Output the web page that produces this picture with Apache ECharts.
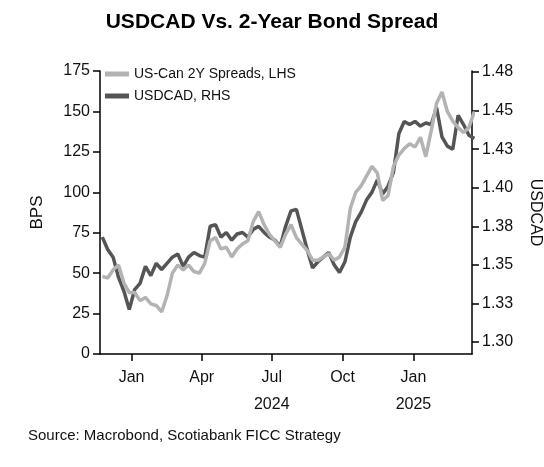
<!DOCTYPE html>
<html><head><meta charset="utf-8">
<script src="https://cdn.jsdelivr.net/npm/echarts@6/dist/echarts.min.js"></script>
<style>html,body{margin:0;padding:0;background:#fff}#c{width:544px;height:467px}</style>
</head><body><div id="c"></div>
<script>
const startDate = '2023-11-24';
const spread = [48,47,52,55,44,38,38,33,35,31,30,26,36,50,55,52,55,51,50,56,70,72,65,66,60,65,68,70,82,88,80,74,70,66,74,80,72,68,64,58,58,60,62,58,60,66,90,100,104,110,116,112,95,98,116,123,127,130,128,134,122,138,155,162,150,144,140,137,140,150];
const usdcad = [1.368,1.360,1.355,1.342,1.333,1.321,1.334,1.338,1.349,1.343,1.351,1.347,1.351,1.355,1.357,1.349,1.355,1.358,1.356,1.355,1.375,1.376,1.368,1.371,1.366,1.370,1.371,1.368,1.373,1.375,1.371,1.368,1.366,1.362,1.375,1.385,1.386,1.373,1.360,1.348,1.352,1.355,1.358,1.350,1.345,1.352,1.368,1.378,1.384,1.392,1.397,1.405,1.396,1.401,1.410,1.435,1.443,1.441,1.443,1.440,1.442,1.441,1.452,1.433,1.427,1.425,1.447,1.441,1.434,1.432];
const leftTicks = [0,25,50,75,100,125,150,175];
const rightTicks = [1.300,1.325,1.350,1.375,1.400,1.425,1.450,1.475];
const xTickDates = ['2024-01-01','2024-04-01','2024-07-01','2024-10-01','2025-01-01'];
const xTickLabels = ['Jan','Apr','Jul\n2024','Oct','Jan\n2025'];

const DAY = 86400000;
const t0 = new Date(startDate + 'T00:00:00Z').getTime();
const dates = spread.map((_, i) => t0 + i * 7 * DAY);
const xTicks = xTickDates.map(d => new Date(d + 'T00:00:00Z').getTime());
const chart = echarts.init(document.getElementById('c'));
const font = 'Liberation Sans, Arial, sans-serif';
chart.setOption({
  animation: false,
  textStyle: {fontFamily: font},
  title: {text: 'USDCAD Vs. 2-Year Bond Spread', left: 'center', top: 7,
    textStyle: {fontSize: 21, fontWeight: 'bold', color: '#000', fontFamily: font}},
  legend: {orient: 'vertical', left: 100, top: 62, itemGap: 8, icon: 'rect', itemWidth: 24, itemHeight: 5,
    textStyle: {fontSize: 14, color: '#111'}, data: ['US-Can 2Y Spreads, LHS', 'USDCAD, RHS']},
  graphic: [{type: 'text', left: 28, top: 428, style: {text: 'Source: Macrobond, Scotiabank FICC Strategy', fontSize: 15, fill: '#111', fontFamily: font}}],
  grid: {left: 100, right: 72, top: 71, bottom: 113, outerBoundsMode: 'none', containLabel: false},
  xAxis: {type: 'value', min: new Date('2023-11-21T00:00:00Z').getTime(), max: new Date('2025-03-18T00:00:00Z').getTime(),
    axisLine: {lineStyle: {color: '#000', width: 1.5}},
    axisTick: {show: true, length: 7, customValues: xTicks, lineStyle: {color: '#000', width: 1.5}},
    axisLabel: {customValues: xTicks, fontSize: 16, color: '#111', margin: 10, lineHeight: 27,
      formatter: v => { const i = xTicks.findIndex(t => Math.abs(t - v) < DAY); return i >= 0 ? xTickLabels[i] : ''; }},
    splitLine: {show: false}},
  yAxis: [
    {type: 'value', min: 0, max: 175, interval: 25, name: 'BPS', nameLocation: 'middle', nameGap: 54, nameRotate: 90,
      nameTextStyle: {fontSize: 17, color: '#111'},
      axisLine: {show: true, lineStyle: {color: '#000', width: 1.5}},
      axisTick: {show: true, length: 7, lineStyle: {color: '#000', width: 1.5}},
      axisLabel: {fontSize: 16, color: '#111', margin: 10}, splitLine: {show: false}},
    {type: 'value', min: 1.2922, max: 1.4757, name: 'USDCAD', nameLocation: 'middle', nameGap: 55, nameRotate: -90,
      nameTextStyle: {fontSize: 16, color: '#111'},
      axisLine: {show: true, lineStyle: {color: '#000', width: 1.5}},
      axisTick: {show: true, length: 7, customValues: rightTicks, lineStyle: {color: '#000', width: 1.5}},
      axisLabel: {customValues: rightTicks, fontSize: 16, color: '#111', margin: 10,
        formatter: v => (Math.round(v * 100 + 1e-6) / 100).toFixed(2)},
      splitLine: {show: false}}
  ],
  series: [
    {name: 'US-Can 2Y Spreads, LHS', type: 'line', yAxisIndex: 0, showSymbol: false, color: '#b3b3b3',
      lineStyle: {width: 3.5, color: '#b3b3b3'}, data: dates.map((d, i) => [d, spread[i]]), z: 2},
    {name: 'USDCAD, RHS', type: 'line', yAxisIndex: 1, showSymbol: false, color: '#555555',
      lineStyle: {width: 3.5, color: '#555555'}, data: dates.map((d, i) => [d, usdcad[i]]), z: 1}
  ]
});
</script></body></html>
